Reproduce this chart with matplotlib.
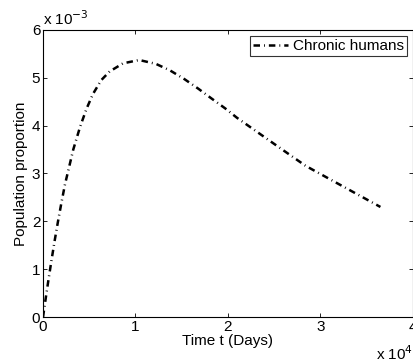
import matplotlib
matplotlib.use("Agg")
import matplotlib.pyplot as plt
from matplotlib.ticker import FuncFormatter
import numpy as np

plt.rcParams["font.family"] = ["Liberation Sans", "DejaVu Sans"]

# chronic human proportion over ~10 years
days = [0, 180, 540, 900, 1260, 1600, 1970, 2370, 3270, 4000, 4700, 5400,
        6300, 7200, 8650, 10400, 12200, 13760, 15300, 16800, 18200, 19700,
        21000, 22700, 25500, 28400, 33100, 36500]
chronic_e3 = [0, 0.25, 0.72, 1.17, 1.60, 1.98, 2.37, 2.77, 3.50, 3.97, 4.35,
              4.66, 4.95, 5.13, 5.30, 5.37, 5.29, 5.15, 4.97, 4.77, 4.57,
              4.36, 4.16, 3.93, 3.55, 3.16, 2.66, 2.30]
chronic = np.array(chronic_e3) * 1e-3

xticks = [0, 10000, 20000, 30000, 40000]
yticks = [0, 0.001, 0.002, 0.003, 0.004, 0.005, 0.006]

FS = 11

fig = plt.figure(figsize=(4.14, 3.64), dpi=100)
ax = fig.add_axes([0.104, 0.129, 0.893, 0.789])

ax.plot(days, chronic, color="black", lw=1.8,
        linestyle=(0, (2.6, 1.6, 0.35, 1.6)), label="Chronic humans")

ax.set_xlim(0, 40000)
ax.set_ylim(0, 0.006)
ax.set_xticks(xticks)
ax.set_yticks(yticks)
ax.xaxis.set_major_formatter(FuncFormatter(lambda v, p: f"{v / 1e4:g}"))
ax.yaxis.set_major_formatter(FuncFormatter(lambda v, p: f"{v / 1e-3:g}"))
ax.tick_params(direction="in", top=True, right=True, length=3, width=0.6,
               labelsize=FS, pad=2)
for s in ax.spines.values():
    s.set_linewidth(0.8)

ax.set_xlabel("Time t (Days)", fontsize=FS, labelpad=0)
ax.set_ylabel("Population proportion", fontsize=FS, labelpad=3)

ax.text(0.0, 1.008, r"x 10$^{-3}$", transform=ax.transAxes, fontsize=FS,
        ha="left", va="bottom")
fig.text(0.999, 0.003, r"x 10$^{4}$", fontsize=FS, ha="right", va="bottom")

leg = ax.legend(loc="upper right", fontsize=FS, frameon=True, fancybox=False,
                handlelength=2.3, handletextpad=0.3, borderpad=0.2,
                borderaxespad=0.4)
leg.get_frame().set_edgecolor("black")
leg.get_frame().set_linewidth(0.8)

fig.savefig("out.png", dpi=100)
